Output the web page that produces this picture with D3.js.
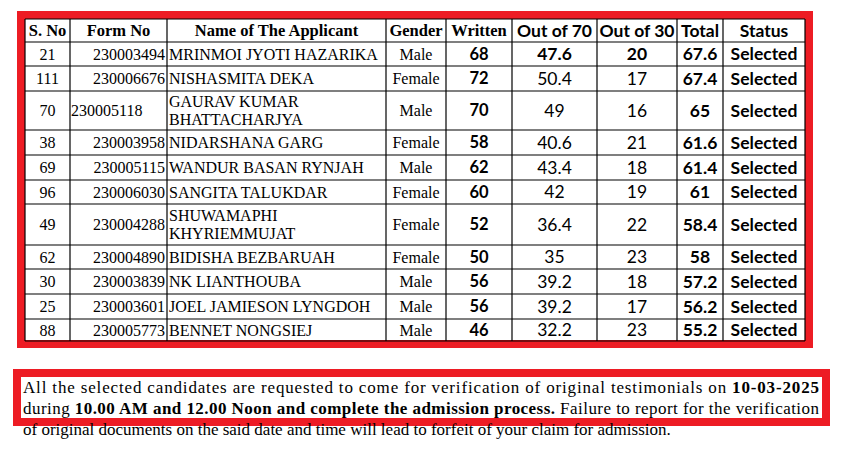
<!DOCTYPE html>
<html><head><meta charset="utf-8">
<script src="https://cdn.jsdelivr.net/npm/d3@7"></script>
<style>body{margin:0;background:#fff}</style>
</head><body><svg></svg>
<script>
var width = 841, height = 454;

var headers = ["S. No","Form No","Name of The Applicant","Gender","Written","Out of 70","Out of 30","Total","Status"];
var sno = [21,111,70,38,69,96,49,62,30,25,88];
var formNo = ["230003494","230006676","230005118","230003958","230005115","230006030","230004288","230004890","230003839","230003601","230005773"];
var names = [["MRINMOI JYOTI HAZARIKA"],["NISHASMITA DEKA"],["GAURAV KUMAR","BHATTACHARJYA"],["NIDARSHANA GARG"],["WANDUR BASAN RYNJAH"],["SANGITA TALUKDAR"],["SHUWAMAPHI","KHYRIEMMUJAT"],["BIDISHA BEZBARUAH"],["NK LIANTHOUBA"],["JOEL JAMIESON LYNGDOH"],["BENNET NONGSIEJ"]];
var gender = ["Male","Female","Male","Female","Male","Female","Female","Female","Male","Male","Male"];
var written = [68,72,70,58,62,60,52,50,56,56,46];
var out70 = ["47.6","50.4","49","40.6","43.4","42","36.4","35","39.2","39.2","32.2"];
var out30 = [20,17,16,21,18,19,22,23,18,17,23];
var total = ["67.6","67.4","65","61.6","61.4","61","58.4","58","57.2","56.2","55.2"];
var statusCol = ["Selected","Selected","Selected","Selected","Selected","Selected","Selected","Selected","Selected","Selected","Selected"];

var colEdges = [25,70,167,386,446,512,597,677,723,805];
var rowEdges = [19,42,66,91,130,155,180,204,245,269,294,319,341];

var serif = "'Liberation Serif', 'Times New Roman', serif";
var sans = "Lato, 'Open Sans', sans-serif";

var svg = d3.select("svg").attr("width", width).attr("height", height);

// red frame around table
svg.append("rect").attr("x",21).attr("y",15).attr("width",788).attr("height",329)
  .attr("fill","none").attr("stroke","#ed1c24").attr("stroke-width",8);

var g = svg.append("g");
// grid
colEdges.forEach(function(x){
  g.append("line").attr("x1",x).attr("x2",x).attr("y1",rowEdges[0]).attr("y2",rowEdges[rowEdges.length-1])
   .attr("stroke","#000").attr("stroke-width",1.2);
});
rowEdges.forEach(function(y){
  g.append("line").attr("x1",colEdges[0]).attr("x2",colEdges[colEdges.length-1]).attr("y1",y).attr("y2",y)
   .attr("stroke","#000").attr("stroke-width",1.2);
});

function mid(i){ return (colEdges[i]+colEdges[i+1])/2; }

// header
headers.forEach(function(h,i){
  g.append("text").attr("x",mid(i)).attr("y",(rowEdges[0]+rowEdges[1])/2).attr("dy","0.36em")
   .attr("text-anchor","middle").attr("font-weight","bold")
   .attr("font-family", i<5 ? serif : sans).attr("font-size", i<5 ? 16.5 : 17.5)
   .text(h);
});

sno.forEach(function(s,r){
  var y0 = rowEdges[r+1], y1 = rowEdges[r+2], cy = (y0+y1)/2;
  function cell(x, txt, anchor, font, size, bold){
    g.append("text").attr("x",x).attr("y",cy).attr("dy","0.36em")
     .attr("text-anchor",anchor).attr("font-family",font).attr("font-size",size)
     .attr("font-weight",bold?"bold":"normal").text(txt);
  }
  cell(mid(0), s, "middle", serif, 16);
  if (r === 2) cell(colEdges[1]+1, formNo[r], "start", serif, 16);
  else cell(colEdges[2]-2, formNo[r], "end", serif, 16);
  if (names[r].length === 1) cell(colEdges[2]+2, names[r][0], "start", serif, 16);
  else {
    names[r].forEach(function(n,k){
      g.append("text").attr("x",colEdges[2]+2).attr("y",cy + (k===0?-9:9)).attr("dy","0.36em")
       .attr("font-family",serif).attr("font-size",16).text(n);
    });
  }
  cell(mid(3), gender[r], "middle", serif, 16);
  cell(mid(4), written[r], "middle", sans, 16.5, true);
  cell(mid(5), out70[r], "middle", sans, 17.5, r===0);
  cell(mid(6), out30[r], "middle", sans, 17.5, r===0);
  cell(mid(7), total[r], "middle", sans, 17.5, true);
  cell(mid(8), statusCol[r], "middle", sans, 17.5, true);
});

// notice box
svg.append("rect").attr("x",17).attr("y",373).attr("width",809).attr("height",49)
  .attr("fill","none").attr("stroke","#ed1c24").attr("stroke-width",8);

var notice = svg.append("g").attr("font-family",serif).attr("font-size",17);
var l1 = notice.append("text").attr("x",23).attr("y",393).attr("textLength",796).attr("lengthAdjust","spacing");
l1.append("tspan").text("All the selected candidates are requested to come for verification of original testimonials on ");
l1.append("tspan").attr("font-weight","bold").text("10-03-2025");
var l2 = notice.append("text").attr("x",23).attr("y",414).attr("textLength",796).attr("lengthAdjust","spacing");
l2.append("tspan").text("during ");
l2.append("tspan").attr("font-weight","bold").text("10.00 AM and 12.00 Noon and complete the admission process.");
l2.append("tspan").text(" Failure to report for the verification");
notice.append("text").attr("x",23).attr("y",435)
  .text("of original documents on the said date and time will lead to forfeit of your claim for admission.");
</script>
</body></html>
